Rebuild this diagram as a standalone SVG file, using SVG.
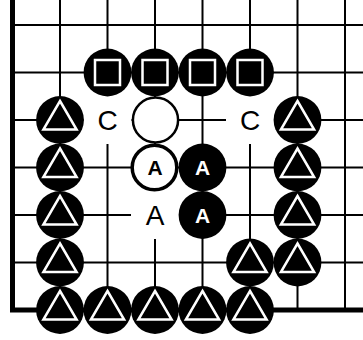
<svg xmlns="http://www.w3.org/2000/svg" xmlns:xlink="http://www.w3.org/1999/xlink" width="363" height="340" viewBox="0 0 363 340">
<style>
.grid{stroke:#000;stroke-width:2;fill:none}
.edge{stroke:#000;stroke-width:5;fill:none;stroke-linejoin:miter;stroke-linecap:butt}
.bs{fill:#000}
.ws{fill:#fff;stroke:#000;stroke-width:2.5}
.wsa{fill:#fff;stroke:#000;stroke-width:3.5}
.mark{fill:none;stroke:#fff;stroke-width:2.5}
.lbl{font-family:"Liberation Sans",Arial,sans-serif;font-size:28px;text-anchor:middle;fill:#000}
.sl{font-family:"Liberation Sans",Arial,sans-serif;font-size:21px;font-weight:bold;text-anchor:middle}
.blank{fill:#fff}
</style>
<defs>
<g id="tri"><circle class="bs" r="23.9"/><path class="mark" d="M0,-19 L16.6,9.6 L-16.6,9.6 Z"/></g>
<g id="sq"><circle class="bs" r="23.9"/><rect class="mark" x="-12.5" y="-12.5" width="25" height="25" stroke-width="2"/></g>
</defs>
<rect width="363" height="340" fill="#fff"/>
<g id="connectors">
<path class="grid" d="M12.5,25H363M12.5,72.5H363M12.5,120H363M12.5,167.5H363M12.5,215H363M12.5,262.5H363"/>
<path class="grid" d="M60,0V310M107.5,0V310M155,0V310M202.5,0V310M250,0V310M297.5,0V310M345,0V310"/>
<path class="edge" d="M12.5,0V310H363"/>
</g>
<g id="label-c1"><rect class="blank" x="83.5" y="96" width="48" height="48"/><text class="lbl" x="107.5" y="130">C</text></g>
<g id="label-c2"><rect class="blank" x="226" y="96" width="48" height="48"/><text class="lbl" x="250" y="130">C</text></g>
<g id="label-a"><rect class="blank" x="131" y="191" width="48" height="48"/><text class="lbl" x="155" y="225">A</text></g>
<g id="sq1"><use xlink:href="#sq" x="107.5" y="72.5"/></g>
<g id="sq2"><use xlink:href="#sq" x="155" y="72.5"/></g>
<g id="sq3"><use xlink:href="#sq" x="202.5" y="72.5"/></g>
<g id="sq4"><use xlink:href="#sq" x="250" y="72.5"/></g>
<g id="tri-l2"><use xlink:href="#tri" x="60" y="120"/></g>
<g id="tri-l3"><use xlink:href="#tri" x="60" y="167.5"/></g>
<g id="tri-l4"><use xlink:href="#tri" x="60" y="215"/></g>
<g id="tri-l5"><use xlink:href="#tri" x="60" y="262.5"/></g>
<g id="tri-r2"><use xlink:href="#tri" x="297.5" y="120"/></g>
<g id="tri-r3"><use xlink:href="#tri" x="297.5" y="167.5"/></g>
<g id="tri-r4"><use xlink:href="#tri" x="297.5" y="215"/></g>
<g id="tri-r5"><use xlink:href="#tri" x="297.5" y="262.5"/></g>
<g id="tri-m5"><use xlink:href="#tri" x="250" y="262.5"/></g>
<g id="tri-b1"><use xlink:href="#tri" x="60" y="310"/></g>
<g id="tri-b2"><use xlink:href="#tri" x="107.5" y="310"/></g>
<g id="tri-b3"><use xlink:href="#tri" x="155" y="310"/></g>
<g id="tri-b4"><use xlink:href="#tri" x="202.5" y="310"/></g>
<g id="tri-b5"><use xlink:href="#tri" x="250" y="310"/></g>
<g id="white1"><circle class="ws" cx="155.5" cy="120" r="22.6"/></g>
<g id="white-a"><circle class="wsa" cx="154.5" cy="167.5" r="22.3"/><text class="sl" x="155" y="175" fill="#000">A</text></g>
<g id="black-a1"><circle class="bs" cx="202.5" cy="167.5" r="23.9"/><text class="sl" x="202.5" y="175" fill="#fff">A</text></g>
<g id="black-a2"><circle class="bs" cx="202.5" cy="215" r="23.9"/><text class="sl" x="202.5" y="222.5" fill="#fff">A</text></g>
</svg>
